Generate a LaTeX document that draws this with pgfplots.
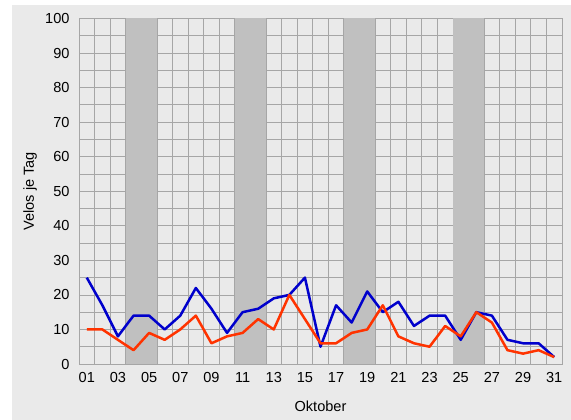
\documentclass[border=0pt]{standalone}
\usepackage{pgfplots}
\pgfplotsset{compat=1.18}
\usepackage{fontspec}
\setmainfont{Liberation Sans}
\definecolor{bggray}{HTML}{EAEAEA}
\definecolor{bandgray}{HTML}{C0C0C0}
\definecolor{gridgray}{HTML}{A6A6A6}
\definecolor{veloblue}{HTML}{0000CC}
\definecolor{velored}{HTML}{FF3300}

\pgfplotstableread{
tag a b
1 25 10
2 17 10
3 8 7
4 14 4
5 14 9
6 10 7
7 14 10
8 22 14
9 16 6
10 9 8
11 15 9
12 16 13
13 19 10
14 20 20
15 25 13
16 5 6
17 17 6
18 12 9
19 21 10
20 15 17
21 18 8
22 11 6
23 14 5
24 14 11
25 7 8
26 15 15
27 14 12
28 7 4
29 6 3
30 6 4
31 2 2
}\veloData

\begin{document}
\begin{tikzpicture}
\fill[white] (-79bp,-56bp) rectangle (492bp,364bp);
\fill[bggray] (-67bp,-56bp) rectangle (492bp,359bp);
\useasboundingbox (-79bp,-56bp) rectangle (492bp,364bp);
\begin{axis}[
  scale only axis, width=483bp, height=345.5bp,
  at={(0,0)}, anchor=south west,
  xmin=0.5, xmax=31.5, ymin=0, ymax=100,
  xtick={1,3,...,31},
  xticklabels={01,03,05,07,09,11,13,15,17,19,21,23,25,27,29,31},
  ytick={0,10,...,100},
  minor xtick={0.5,1.5,...,31.5},
  minor ytick={0,5,...,100},
  grid=minor,
  minor grid style={gridgray, line width=0.8pt},
  major tick length=0pt, minor tick length=0pt,
  axis line style={gridgray, line width=1pt},
  axis background/.style={fill=bggray},
  tick label style={font=\fontsize{14.6}{16}\selectfont},
  /pgf/number format/assume math mode=true,
  xticklabel style={yshift=-5bp},
  yticklabel style={xshift=-6bp},
  xlabel={Oktober}, ylabel={Velos je Tag},
  every axis x label/.style={at={(axis description cs:0.5,0)}, yshift=-42bp, anchor=center, font=\fontsize{14.6}{16}\selectfont},
  every axis y label/.style={at={(axis description cs:0,0.5)}, xshift=-49bp, rotate=90, anchor=center, font=\fontsize{14.6}{16}\selectfont},
  clip=true,
]
\addplot[fill=bandgray, draw=none] coordinates {(3.5,0) (3.5,100) (5.5,100) (5.5,0)} -- cycle;
\addplot[fill=bandgray, draw=none] coordinates {(10.5,0) (10.5,100) (12.5,100) (12.5,0)} -- cycle;
\addplot[fill=bandgray, draw=none] coordinates {(17.5,0) (17.5,100) (19.5,100) (19.5,0)} -- cycle;
\addplot[fill=bandgray, draw=none] coordinates {(24.5,0) (24.5,100) (26.5,100) (26.5,0)} -- cycle;
\addplot[veloblue, line width=2.5bp, line join=round, mark=none] table[x=tag, y=a] {\veloData};
\addplot[velored, line width=2.5bp, line join=round, mark=none] table[x=tag, y=b] {\veloData};
\end{axis}
\end{tikzpicture}
\end{document}
